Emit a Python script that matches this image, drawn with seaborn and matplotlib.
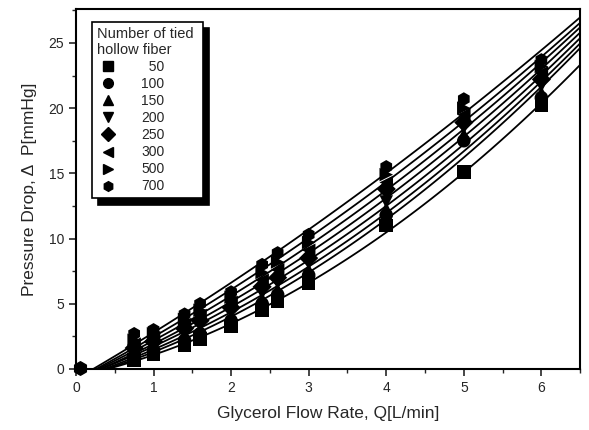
import numpy as np
import pandas as pd
import matplotlib
matplotlib.use("Agg")
import matplotlib.pyplot as plt
import seaborn as sns
from matplotlib.ticker import MultipleLocator

# ---- data ----
flow = [0.75, 1, 1.4, 1.6, 2, 2.4, 2.6, 3, 4, 5, 6]
fibers = ["50", "100", "150", "200", "250", "300", "500", "700"]
p50 = [0.7, 1.1, 1.8, 2.3, 3.3, 4.5, 5.2, 6.6, 11.0, 15.1, 20.2]
p100 = [1.0, 1.4, 2.2, 2.7, 3.7, 5.0, 5.7, 7.2, 11.8, 17.5, 20.8]
p150 = [1.2, 1.6, 2.5, 3.0, 4.0, 5.4, 6.1, 7.6, 12.3, 18.0, 21.2]
p200 = [1.4, 1.9, 2.8, 3.4, 4.4, 5.8, 6.6, 8.1, 12.8, 18.5, 21.7]
p250 = [1.6, 2.1, 3.1, 3.7, 4.7, 6.3, 7.0, 8.5, 13.8, 18.9, 22.2]
p300 = [1.9, 2.4, 3.4, 4.1, 5.1, 6.8, 7.6, 9.1, 14.3, 19.5, 22.7]
p500 = [2.2, 2.7, 3.8, 4.5, 5.5, 7.4, 8.2, 9.7, 14.9, 20.0, 23.2]
p700 = [2.7, 3.0, 4.2, 5.0, 5.9, 8.0, 8.9, 10.3, 15.5, 20.7, 23.7]
origin_x = [0.05]
origin_y = [0.1]
series = [p50, p100, p150, p200, p250, p300, p500, p700]
marker_list = ["s", "o", "^", "v", "D", "<", ">", "h"]

rows = []
for f, vals in zip(fibers, series):
    for x, y in zip(flow, vals):
        rows.append({"Fiber": f, "Q": x, "P": y})
df = pd.DataFrame(rows)

# quadratic fits for the curves
fit_rows = []
xs = np.linspace(0.0, 6.6, 120)
for f, vals in zip(fibers, series):
    c = np.polyfit([0.3] + flow, [0.0] + vals, 2)
    for x in xs:
        fit_rows.append({"Fiber": f, "Q": x, "P": np.polyval(c, x)})
fit_df = pd.DataFrame(fit_rows)

sns.set_style("ticks")
plt.rcParams["font.family"] = ["Liberation Sans", "DejaVu Sans"]

fig = plt.figure(figsize=(5.89, 4.30), dpi=100)
ax = fig.add_axes([0.129, 0.142, 0.856, 0.837])

sns.lineplot(data=fit_df, x="Q", y="P", units="Fiber", estimator=None,
             color="black", lw=1.3, legend=False, ax=ax, sort=False)
sns.scatterplot(data=df, x="Q", y="P", style="Fiber", style_order=fibers,
                markers=dict(zip(fibers, marker_list)), color="black",
                s=95, edgecolor="black", linewidth=0, ax=ax, legend=False, zorder=3)
ax.scatter(origin_x, origin_y, marker="h", s=95, color="black", zorder=3,
           clip_on=False)

ax.set_xlim(0, 6.5)
ax.set_ylim(0, 27.6)
ax.xaxis.set_major_locator(MultipleLocator(1))
ax.xaxis.set_minor_locator(MultipleLocator(0.5))
ax.yaxis.set_major_locator(MultipleLocator(5))
ax.yaxis.set_minor_locator(MultipleLocator(2.5))
ax.tick_params(which="major", direction="out", length=5, width=1.2,
               labelsize=10, top=False, right=False)
ax.tick_params(which="minor", direction="out", length=3, width=1.0,
               top=False, right=False)
for s in ax.spines.values():
    s.set_linewidth(1.5)
    s.set_color("black")

ax.set_xlabel("Glycerol Flow Rate, Q[L/min]", fontsize=12.5, labelpad=8)
ax.set_ylabel("Pressure Drop, \u0394  P[mmHg]", fontsize=12.5, labelpad=8)

handles = [plt.Line2D([], [], marker=m, ls="none", color="black", markersize=7)
           for m in marker_list]
labels = ["  50", "100", "150", "200", "250", "300", "500", "700"]
leg = ax.legend(handles, labels, title="Number of tied \nhollow fiber",
                loc="upper left", bbox_to_anchor=(0.032, 0.964), borderaxespad=0,
                frameon=True, fancybox=False,
                shadow={"color": "black", "alpha": 1.0, "ox": 4.5, "oy": -4.5},
                edgecolor="black", fontsize=10, title_fontsize=10.5,
                handletextpad=1.6, labelspacing=0.22, borderpad=0.35,
                alignment="left", handlelength=1.6)
leg.get_frame().set_linewidth(1.2)
leg.get_title().set_linespacing(1.2)

fig.savefig("out.png", dpi=100)
